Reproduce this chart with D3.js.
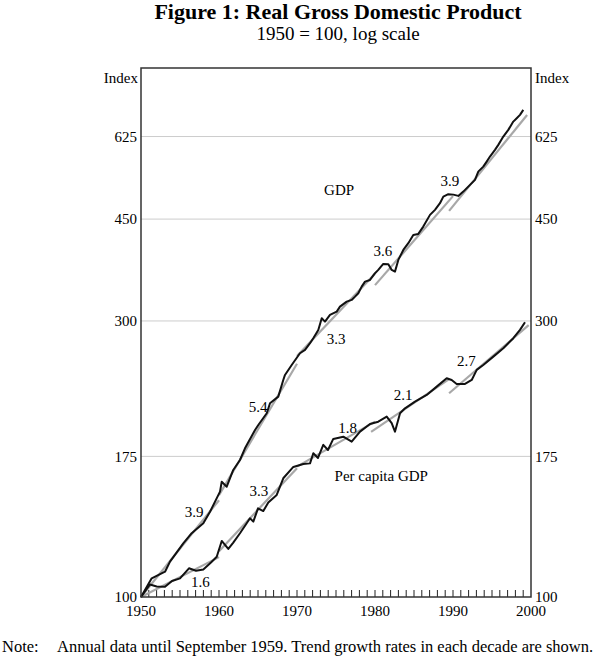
<!DOCTYPE html>
<html lang="en">
	<head>
		<meta charset="utf-8">
		<title>Figure 1: Real Gross Domestic Product</title>
		<script type="text/javascript" src="https://cdnjs.cloudflare.com/ajax/libs/d3/7.8.5/d3.min.js"></script>
		<style type="text/css">
			body { margin: 0; background: #fff; }
			text { font-family: "Liberation Serif", "Times New Roman", serif; fill: #000; }
		</style>
	</head>
	<body>
		<script type="text/javascript">
			//Width and height
			var w = 600;
			var h = 657;

			//GDP, 1950 = 100 (annual until 1959, then quarterly)
			var gdpYears = [1950, 1951.37, 1953.08, 1953.72, 1955.42, 1956.5, 1957.99, 1958.85, 1960.13, 1960.35,
							1960.99, 1961.83, 1962.69, 1963.33, 1964.62, 1965.04, 1966.12, 1966.54, 1967.6, 1968.24,
							1968.46, 1969.32, 1970.38, 1971.03, 1971.67, 1972.09, 1972.73, 1973.17, 1973.59, 1974.23,
							1975.09, 1975.51, 1976.37, 1977.01, 1977.44, 1977.86, 1978.29, 1978.72, 1979.36, 1980.0,
							1980.42, 1981.06, 1981.71, 1982.14, 1982.56, 1982.99, 1983.63, 1984.27, 1984.91, 1985.55,
							1986.19, 1987.05, 1987.69, 1988.33, 1988.76, 1989.4, 1990.04, 1990.68, 1991.32, 1992.18,
							1992.82, 1993.24, 1993.88, 1994.32, 1994.74, 1995.38, 1995.81, 1996.45, 1997.09, 1997.73,
							1998.17, 1998.59, 1999.01];
			var gdpValues = [100, 107.7, 110.6, 115.1, 123.8, 128.9, 134.1, 140.4, 152.1, 158.2,
							 155.1, 165.8, 172.5, 180.7, 194.4, 198.3, 207.8, 216.2, 222, 237.2,
							 242, 251.8, 263.8, 267.3, 274.6, 280.1, 289.5, 303.3, 299.2, 307.3,
							 311.4, 317.6, 324, 326.2, 330.5, 335, 343.9, 350.8, 353.2, 362.8,
							 367.6, 376.5, 376, 367.6, 365.1, 382.5, 398, 408.8, 422.5, 424.2,
							 436.7, 457.6, 466.8, 479.4, 492.1, 496.9, 496, 493.5, 502, 515.6,
							 525.9, 543.6, 554.5, 565.7, 577.1, 592.7, 604.6, 624.9, 641.8, 663.3,
							 672.4, 681.3, 695];

			//Per capita GDP, 1950 = 100
			var capYears = [1950, 1951.15, 1952.01, 1953.08, 1953.97, 1955.0, 1956.15, 1957.05, 1957.99, 1958.97,
							1959.71, 1960.35, 1961.19, 1961.83, 1962.69, 1963.12, 1963.55, 1963.97, 1964.4, 1965.0,
							1965.68, 1966.32, 1967.4, 1968.24, 1969.53, 1970.81, 1971.67, 1972.09, 1972.69, 1973.37,
							1973.97, 1974.65, 1975.94, 1977.01, 1978.08, 1979.36, 1980.42, 1981.5, 1982.14, 1982.56,
							1983.21, 1983.85, 1985.13, 1986.63, 1987.91, 1989.19, 1989.83, 1990.47, 1991.54, 1992.4,
							1993.04, 1993.88, 1995.17, 1996.45, 1997.73, 1998.59, 1999.23];
			var capValues = [100, 105.1, 104.3, 104.2, 106.6, 107.7, 112.1, 111.0, 111.6, 114.7,
							 117.4, 125.0, 121.1, 124.2, 128.9, 131.5, 134.1, 136.8, 135.0, 142.3,
							 140.8, 145.7, 150.1, 160.4, 167.8, 169.8, 170.2, 177.2, 173.9, 183.2,
							 179.5, 187.6, 189.3, 185.6, 193.1, 199.1, 200.9, 205.0, 199.7, 193.1,
							 207.8, 211.9, 217.6, 223.5, 231, 238.8, 237.2, 233.5, 233.5, 237.2,
							 246.9, 251.8, 260.3, 269.1, 280.1, 289.5, 298.5];

			//Decade trends: [start, end] years and values, with growth rate labels
			var gdpTrendYears = [[1950, 1960], [1960, 1970], [1970, 1980], [1980, 1990], [1989.5, 1999.5]];
			var gdpTrendValues = [[100, 147], [150, 253], [261, 362], [346, 493], [465, 681]];
			var gdpRates = ["3.9", "5.4", "3.3", "3.6", "3.9"];
			var gdpRateYears = [1956.8, 1965.0, 1975.0, 1981.0, 1989.6];
			var gdpRateValues = [140.3, 213.1, 279.3, 396.5, 523.9];

			var capTrendYears = [[1950, 1960], [1960, 1970], [1970, 1980], [1979.5, 1989.5], [1989.5, 1999.7]];
			var capTrendValues = [[100, 117.2], [120, 167], [168, 201], [193, 238], [225, 295]];
			var capRates = ["1.6", "3.3", "1.8", "2.1", "2.7"];
			var capRateYears = [1957.6, 1965.1, 1976.5, 1983.6, 1991.7];
			var capRateValues = [106.2, 152.5, 196.0, 223.5, 255.9];

			//Series names and where they sit
			var seriesNames = ["GDP", "Per capita GDP"];
			var seriesNameYears = [1975.4, 1980.8];
			var seriesNameValues = [505.5, 161.9];

			//Axis ticks
			var yTicks = [100, 175, 300, 450, 625];
			var xLabels = [1950, 1960, 1970, 1980, 1990, 2000];

			var pLeft = 141, pRight = 531, pTop = 68, pBottom = 597;

			var xScale = d3.scaleLinear()
							.domain([1950, 2000])
							.range([pLeft, pRight]);

			var yScale = d3.scaleLog()
							.domain([100, 821])
							.range([pBottom, pTop]);

			//Create SVG element
			var svg = d3.select("body")
						.append("svg")
						.attr("width", w)
						.attr("height", h);

			//Title
			svg.append("text")
			   .attr("x", 338)
			   .attr("y", 19)
			   .attr("text-anchor", "middle")
			   .attr("font-size", "22px")
			   .attr("font-weight", "bold")
			   .text("Figure 1: Real Gross Domestic Product");

			svg.append("text")
			   .attr("x", 338)
			   .attr("y", 40)
			   .attr("text-anchor", "middle")
			   .attr("font-size", "19px")
			   .text("1950 = 100, log scale");

			//Gridlines
			svg.selectAll("line.grid")
			   .data(yTicks.slice(1))
			   .enter()
			   .append("line")
			   .attr("class", "grid")
			   .attr("x1", pLeft)
			   .attr("x2", pRight)
			   .attr("y1", function(d) { return yScale(d); })
			   .attr("y2", function(d) { return yScale(d); })
			   .attr("stroke", "#cccccc")
			   .attr("stroke-width", 1);

			//Year ticks, inward from the bottom
			svg.selectAll("line.xtick")
			   .data(d3.range(1951, 2000))
			   .enter()
			   .append("line")
			   .attr("class", "xtick")
			   .attr("x1", function(d) { return xScale(d); })
			   .attr("x2", function(d) { return xScale(d); })
			   .attr("y1", pBottom)
			   .attr("y2", pBottom - 7)
			   .attr("stroke", "#222")
			   .attr("stroke-width", 1);

			//Left and right tick labels
			svg.selectAll("text.ylabL")
			   .data(yTicks)
			   .enter()
			   .append("text")
			   .attr("class", "ylabL")
			   .attr("x", pLeft - 4)
			   .attr("y", function(d) { return yScale(d); })
			   .attr("dy", "0.35em")
			   .attr("text-anchor", "end")
			   .attr("font-size", "15px")
			   .text(function(d) { return d; });

			svg.selectAll("text.ylabR")
			   .data(yTicks)
			   .enter()
			   .append("text")
			   .attr("class", "ylabR")
			   .attr("x", pRight + 4)
			   .attr("y", function(d) { return yScale(d); })
			   .attr("dy", "0.35em")
			   .attr("font-size", "15px")
			   .text(function(d) { return d; });

			svg.append("text")
			   .attr("x", pLeft - 3)
			   .attr("y", 78)
			   .attr("dy", "0.35em")
			   .attr("text-anchor", "end")
			   .attr("font-size", "15px")
			   .text("Index");

			svg.append("text")
			   .attr("x", pRight + 4)
			   .attr("y", 78)
			   .attr("dy", "0.35em")
			   .attr("font-size", "15px")
			   .text("Index");

			//Year labels
			svg.selectAll("text.xlab")
			   .data(xLabels)
			   .enter()
			   .append("text")
			   .attr("class", "xlab")
			   .attr("x", function(d) { return xScale(d); })
			   .attr("y", pBottom + 19)
			   .attr("text-anchor", "middle")
			   .attr("font-size", "15px")
			   .text(function(d) { return d; });

			//Trend lines
			function drawTrends(years, values) {
				svg.selectAll(null)
				   .data(years)
				   .enter()
				   .append("line")
				   .attr("x1", function(d) { return xScale(d[0]); })
				   .attr("x2", function(d) { return xScale(d[1]); })
				   .attr("y1", function(d, i) { return yScale(values[i][0]); })
				   .attr("y2", function(d, i) { return yScale(values[i][1]); })
				   .attr("stroke", "#a8a8a8")
				   .attr("stroke-width", 2.2);
			}
			drawTrends(gdpTrendYears, gdpTrendValues);
			drawTrends(capTrendYears, capTrendValues);

			//Series lines
			var line = d3.line()
						 .x(function(d) { return xScale(d[0]); })
						 .y(function(d) { return yScale(d[1]); });

			svg.append("path")
			   .datum(d3.zip(gdpYears, gdpValues))
			   .attr("d", line)
			   .attr("fill", "none")
			   .attr("stroke", "#111")
			   .attr("stroke-width", 2)
			   .attr("stroke-linejoin", "round");

			svg.append("path")
			   .datum(d3.zip(capYears, capValues))
			   .attr("d", line)
			   .attr("fill", "none")
			   .attr("stroke", "#111")
			   .attr("stroke-width", 2)
			   .attr("stroke-linejoin", "round");

			//Growth rate labels
			function drawLabels(texts, years, values) {
				svg.selectAll(null)
				   .data(texts)
				   .enter()
				   .append("text")
				   .attr("x", function(d, i) { return xScale(years[i]); })
				   .attr("y", function(d, i) { return yScale(values[i]); })
				   .attr("dy", "0.35em")
				   .attr("text-anchor", "middle")
				   .attr("font-size", "15px")
				   .text(function(d) { return d; });
			}
			drawLabels(gdpRates, gdpRateYears, gdpRateValues);
			drawLabels(capRates, capRateYears, capRateValues);
			drawLabels(seriesNames, seriesNameYears, seriesNameValues);

			//Frame
			svg.append("rect")
			   .attr("x", pLeft)
			   .attr("y", pTop)
			   .attr("width", pRight - pLeft)
			   .attr("height", pBottom - pTop)
			   .attr("fill", "none")
			   .attr("stroke", "#333")
			   .attr("stroke-width", 1.5);

			//Note
			svg.append("text")
			   .attr("x", 2)
			   .attr("y", 652)
			   .attr("font-size", "16.5px")
			   .text("Note:");

			svg.append("text")
			   .attr("x", 57)
			   .attr("y", 652)
			   .attr("font-size", "16.5px")
			   .text("Annual data until September 1959. Trend growth rates in each decade are shown.");
		</script>
	</body>
</html>
